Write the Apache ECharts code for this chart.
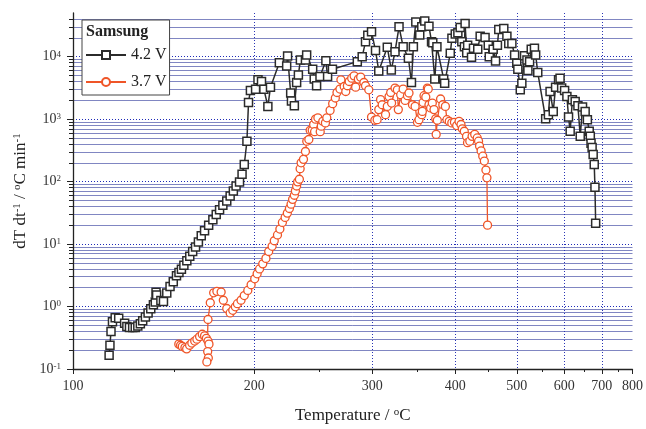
<!DOCTYPE html>
<html>
<head>
<meta charset="utf-8">
<script src="https://cdn.jsdelivr.net/npm/echarts@6/dist/echarts.min.js"></script>
<style>
html, body { margin: 0; padding: 0; background: #fff; }
#chart { width: 646px; height: 429px; }
</style>
</head>
<body>
<div id="chart"></div>
<script>
// temperatures (°C) and dT/dt (°C/min)
var t42 = [116.4, 116.8, 117.3, 118.0, 119.3, 121.0, 123.9, 125.0, 126.3, 127.9, 129.2, 130.5, 131.8, 133.0, 134.4,
	135.8, 137.2, 138.6, 139.6, 140.0, 140.3, 142.6, 144.0, 145.8, 147.6, 149.4, 151.2, 152.6, 154.0, 155.4, 157.1,
	158.8, 160.5, 162.2, 163.9, 165.6, 167.6, 170.1, 172.7, 174.8, 176.9, 179.0, 181.5, 183.7, 185.8, 187.6, 189.9,
	191.6, 193.1, 194.9, 196.0, 197.3, 200.9, 202.6, 205.1, 206.8, 209.7, 211.6, 218.2, 223.8, 224.5, 226.9, 227.5,
	229.8, 231.6, 233.0, 234.6, 238.7, 239.7, 244.7, 246.0, 248.0, 250.9, 256.0, 257.5, 261.8, 285.0, 289.8, 293.1,
	295.4, 299.2, 303.3, 306.7, 315.8, 320.2, 324.3, 328.8, 333.5, 339.6, 343.2, 345.5, 348.4, 353.2, 355.7, 359.4,
	364.7, 368.0, 369.6, 372.2, 375.0, 384.0, 385.3, 393.0, 395.3, 400.0, 403.7, 407.0, 409.4, 413.2, 414.2, 416.6,
	418.0, 423.8, 426.8, 433.4, 437.2, 445.0, 450.2, 451.8, 458.3, 462.3, 465.5, 467.8, 476.5, 482.0, 485.3, 491.0,
	496.0, 500.0, 502.0, 506.6, 509.6, 514.8, 519.5, 521.4, 524.7, 528.0, 534.5, 537.0, 541.3, 558.0, 564.0, 567.6,
	574.7, 580.0, 586.8, 590.3, 594.0, 601.0, 606.5, 610.5, 614.5, 620.0, 627.0, 634.0, 640.0, 646.0, 653.0, 659.0,
	664.0, 667.0, 669.0, 672.0, 675.0, 678.0, 680.0, 682.0];
var v42 = [0.166, 0.24, 0.40, 0.57, 0.66, 0.65, 0.54, 0.48, 0.46, 0.46, 0.46, 0.49, 0.53, 0.59, 0.68,
	0.79, 0.92, 1.07, 1.18, 1.69, 1.53, 1.25, 1.2, 1.65, 2.1, 2.5, 3.1, 3.5, 3.96, 4.6, 5.4,
	6.4, 7.6, 9.0, 10.8, 13.6, 16.3, 20.1, 24.5, 29.8, 35.3, 42, 49, 59, 71, 85, 98.6,
	131, 188, 443, 1850, 2880, 3020, 4260, 4000, 3020, 1600, 3250, 8020, 7110, 10260, 2620, 1950,
	1640, 3860, 5110, 8860, 8860, 10600, 6300, 4370, 3420, 4800, 8630, 4800, 6300, 8320, 10000, 17300,
	22100, 25000, 12500, 5920, 14100, 6140, 12000, 30000, 14400, 9430, 3860, 14400, 36000, 22200, 30000, 37400,
	30800, 17300, 16700, 4370, 14400, 4370, 3760, 11300, 19700, 23000, 24100, 29300, 17300, 14400, 34000, 11600,
	15300, 9800, 13600, 13100, 21300, 20300, 15300, 10000, 13100, 8540, 15300, 27300, 28300, 21300, 16300, 16300,
	10600, 7850, 6300, 2950, 3760, 10300, 8860, 5990, 8320, 13100, 13600, 10600, 5560, 1010, 1180, 2770,
	1330, 3250, 4260, 4520, 3140, 2880, 2300, 1080, 640, 2050, 1920, 1640, 530, 1560, 1330, 980,
	640, 530, 410, 350, 272, 187, 81, 21.5];

var t37 = [152.5, 153.5, 154.5, 156.0, 157.0, 158.7, 160.0, 161.7, 163.0, 164.6, 166.2, 167.6, 168.7, 169.7, 170.3,
	169.5, 169.9, 169.0, 169.7, 171.1, 173.2, 175.2, 177.9, 179.3, 181.5, 183.7, 185.4, 187.1, 188.5, 190.9, 193.1,
	195.5, 197.8, 200.3, 202.0, 203.7, 206.0, 208.3, 210.3, 212.8, 214.4, 216.8, 218.6, 220.5, 222.6, 224.3, 225.9,
	227.2, 228.4, 229.8, 230.6, 231.6, 232.4, 233.8, 234.4, 235.2, 237.1, 238.7, 239.8, 241.5, 242.6, 244.3, 245.5,
	246.3, 247.1, 249.1, 251.1, 252.0, 253.3, 255.6, 256.8, 259.7, 262.0, 264.4, 265.9, 268.6, 269.5, 272.5, 274.0,
	275.5, 277.2, 279.6, 281.9, 283.4, 286.0, 288.3, 291.5, 293.1, 296.4, 299.2, 302.6, 305.0, 306.7, 308.6, 310.3,
	313.9, 315.8, 317.7, 319.5, 320.5, 324.3, 326.9, 328.0, 330.7, 333.5, 335.8, 338.5, 340.3, 344.4, 347.6, 350.4,
	352.3, 355.7, 356.4, 357.3, 358.5, 360.7, 362.7, 363.8, 364.7, 366.8, 369.0, 371.2, 373.4, 374.0, 375.5, 379.8,
	382.8, 386.3, 388.4, 391.6, 395.1, 398.8, 402.0, 405.4, 408.2, 410.1, 413.0, 416.3, 417.8, 421.2, 424.7, 428.7,
	432.6, 434.7, 436.2, 438.7, 441.3, 443.8, 446.4, 448.0, 449.0];
var v37 = [0.25, 0.24, 0.23, 0.22, 0.21, 0.24, 0.26, 0.28, 0.30, 0.33, 0.36, 0.34, 0.31, 0.28, 0.25,
	0.19, 0.15, 0.13, 0.62, 1.15, 1.66, 1.75, 1.71, 1.26, 0.93, 0.79, 0.87, 0.99, 1.11, 1.26, 1.50,
	1.81, 2.23, 2.78, 3.34, 4.0, 4.82, 5.9, 7.6, 9.2, 11.3, 14, 17.4, 22.2, 26.7, 31.3, 37.1,
	43.5, 52, 60.5, 71, 85, 99, 109, 161, 200, 227, 303, 443, 472, 663, 663, 818,
	630, 1000, 1050, 630, 770, 923, 870, 1050, 1380, 1770, 2180, 2670, 3030, 4260, 3330, 2770,
	3420, 4000, 4520, 4930, 3250, 4370, 4700, 3860, 3420, 2950, 1080, 960, 980, 1420, 2050, 1700,
	1180, 1600, 2300, 2670, 1810, 3140, 2950, 1420, 2460, 3030, 1990, 2370, 2620, 1700, 1600, 890,
	980, 1180, 1330, 1850, 2370, 2260, 3140, 3030, 1700, 1510, 1810, 1420, 1010, 570, 960, 2100,
	1700, 1600, 980, 920, 870, 890, 790, 920, 820, 700, 640, 530, 420, 443, 530, 570,
	500, 443, 370, 310, 255, 213, 153, 115, 20.1];

var xMajor = [100, 200, 300, 400, 500, 600, 700, 800];
var xMinor = [150, 250, 350, 450, 550, 650, 750];
var xGrid = [200, 300, 400, 500, 600, 700];
var yExp = [-1, 0, 1, 2, 3, 4];
var yTop = 50000;

var font = 'Liberation Serif';
var blue = '#4a52a8';

// x is drawn on a reciprocal-temperature scale, y on log10
function xOf(t) { return -1000 / (t + 273.15); }
function yOf(v) { return Math.log10(v); }
function toPairs(ts, vs) {
	return ts.map(function (t, i) { return [xOf(t), yOf(vs[i])]; });
}

var yMinor = [];
yExp.forEach(function (e) {
	for (var k = 2; k <= 9; k++) {
		var v = k * Math.pow(10, e);
		if (v < yTop) yMinor.push(yOf(v));
	}
});

var xMin = xOf(xMajor[0]), xMax = xOf(xMajor[xMajor.length - 1]);
var yMin = yExp[0], yMax = yOf(yTop);

var chart = echarts.init(document.getElementById('chart'), null, { renderer: 'canvas' });

var option = {
	animation: false,
	backgroundColor: '#fff',
	grid: { left: 73, right: 12, top: 13, bottom: 58 },
	title: {
		text: 'Samsung', left: 86, top: 24, padding: 0,
		textStyle: { fontFamily: font, fontSize: 16, fontWeight: 'bold', color: '#222' }
	},
	legend: {
		data: ['4.2 V', '3.7 V'],
		orient: 'vertical', left: 82, top: 20,
		padding: [27, 3, 5, 3],
		itemWidth: 40, itemHeight: 10, itemGap: 11,
		backgroundColor: '#fff', borderColor: '#444', borderWidth: 1,
		textStyle: { fontFamily: font, fontSize: 16, color: '#222' }
	},
	xAxis: [
		{
			type: 'value', min: xMin, max: xMax, position: 'bottom',
			name: 'Temperature / {s|o}C', nameLocation: 'middle', nameGap: 38,
			nameTextStyle: { fontFamily: font, fontSize: 17, color: '#222', rich: { s: { fontFamily: font, fontSize: 11, verticalAlign: 'top' } } },
			axisLine: { onZero: false, lineStyle: { color: '#222', width: 1.3 } },
			axisTick: { customValues: xMajor.map(xOf), length: 5, lineStyle: { color: '#222' } },
			axisLabel: {
				customValues: xMajor.map(xOf), margin: 10,
				fontFamily: font, fontSize: 14, color: '#333',
				formatter: function (v) { return String(Math.round(-1000 / v - 273.15)); }
			},
			splitLine: { show: false }
		},
		{
			type: 'value', min: xMin, max: xMax, position: 'bottom',
			axisLine: { show: false, onZero: false },
			axisTick: { customValues: xMinor.map(xOf), length: 3, lineStyle: { color: '#222' } },
			axisLabel: { show: false },
			splitLine: { show: false }
		},
		{
			type: 'value', min: xMin, max: xMax, position: 'bottom',
			axisLine: { show: false, onZero: false },
			axisTick: { show: false, customValues: xGrid.map(xOf) },
			axisLabel: { show: false },
			splitLine: { show: true, lineStyle: { color: '#2a35b5', type: [1, 2], width: 1 } }
		}
	],
	yAxis: [
		{
			type: 'value', min: yMin, max: yMax, position: 'left',
			name: 'dT dt{s|-1} / {s|o}C min{s|-1}', nameLocation: 'middle', nameGap: 41,
			nameTextStyle: { fontFamily: font, fontSize: 17, color: '#222', rich: { s: { fontFamily: font, fontSize: 11, verticalAlign: 'top' } } },
			axisLine: { show: true, onZero: false, lineStyle: { color: '#222', width: 1.3 } },
			axisTick: { show: true, customValues: yExp, length: 6, lineStyle: { color: '#222' } },
			axisLabel: {
				customValues: yExp, margin: 12,
				fontFamily: font, fontSize: 14, color: '#333',
				formatter: function (v) { return '10{s|' + Math.round(v) + '}'; },
				rich: { s: { fontFamily: font, fontSize: 9, verticalAlign: 'top', color: '#333' } }
			},
			splitLine: { show: true, lineStyle: { color: '#1e2ab8', type: [1, 2], width: 1 } }
		},
		{
			type: 'value', min: yMin, max: yMax, position: 'left',
			axisLine: { show: false, onZero: false },
			axisTick: { show: true, customValues: yMinor, length: 4, lineStyle: { color: '#222' } },
			axisLabel: { show: false },
			splitLine: { show: true, lineStyle: { color: blue, width: 1, opacity: 0.7 } }
		}
	],
	series: [
		{
			name: '4.2 V', type: 'line', xAxisIndex: 0, yAxisIndex: 0,
			data: toPairs(t42, v42),
			symbol: 'rect', symbolSize: 8, showAllSymbol: true,
			itemStyle: { color: '#fff', borderColor: '#2b2b2b', borderWidth: 1.5 },
			lineStyle: { color: '#2b2b2b', width: 1.5 },
			z: 3
		},
		{
			name: '3.7 V', type: 'line', xAxisIndex: 0, yAxisIndex: 0,
			data: toPairs(t37, v37),
			symbol: 'circle', symbolSize: 8, showAllSymbol: true,
			itemStyle: { color: '#fff', borderColor: '#ef5528', borderWidth: 1.3 },
			lineStyle: { color: '#ef5528', width: 1.3 },
			z: 4
		}
	]
};

chart.setOption(option);
</script>
</body>
</html>
